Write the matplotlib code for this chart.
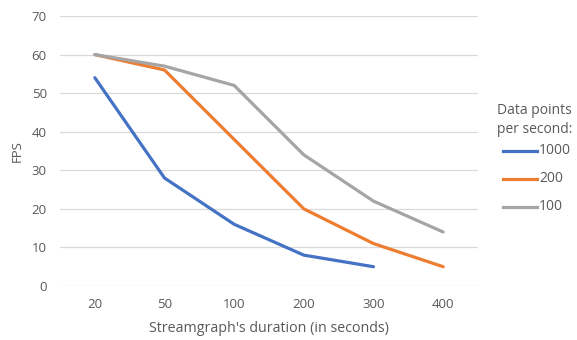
import matplotlib
matplotlib.use("Agg")
import matplotlib.pyplot as plt
from matplotlib.lines import Line2D

categories = ["20", "50", "100", "200", "300", "400"]
series_names = ["1000", "200", "100"]
fps_1000 = [54, 28, 16, 8, 5]
fps_200 = [60, 56, 38, 20, 11, 5]
fps_100 = [60, 57, 52, 34, 22, 14]
colors = ["#4472C4", "#ED7D31", "#A5A5A5"]

plt.rcParams['font.family'] = ['Open Sans', 'DejaVu Sans']
text_color = "#595959"

fig = plt.figure(figsize=(5.77, 3.40), dpi=100)
ax = fig.add_axes([60/577, 1-286/340, (478-60)/577, (286-16)/340])

for vals, c, name in zip([fps_1000, fps_200, fps_100], colors, series_names):
    ax.plot(range(len(vals)), vals, color=c, lw=2.3, label=name, solid_capstyle='round', zorder=3)

ax.set_xlim(-0.5, len(categories) - 0.5)
ax.set_ylim(0, 70)
ax.set_yticks(range(0, 71, 10))
ax.set_xticks(range(len(categories)))
ax.set_xticklabels(categories)
ax.grid(axis='y', color="#D9D9D9", lw=0.9, zorder=0)
ax.set_axisbelow(True)
for s in ax.spines.values():
    s.set_visible(False)
ax.tick_params(axis='both', length=0, labelsize=9.5, colors=text_color)
ax.tick_params(axis='x', pad=9)
ax.tick_params(axis='y', pad=9.5)
ax.set_ylabel("FPS", fontsize=9.5, color=text_color, labelpad=6)
ax.set_xlabel("Streamgraph's duration (in seconds)", fontsize=10.3, color=text_color, labelpad=7)

fig.text(497/577, 1-120/340, "Data points\nper second:", fontsize=10, color=text_color,
         va='center', ha='left', linespacing=1.35)
ys = [151, 179, 207]
for y, c, name in zip(ys, colors, series_names):
    fig.add_artist(Line2D([503/577, 537/577], [1-y/340, 1-y/340], color=c, lw=2.3,
                          transform=fig.transFigure))
    fig.text(539/577, 1-y/340, name, fontsize=10, color=text_color, va='center', ha='left')

fig.savefig("out.png", dpi=100)
